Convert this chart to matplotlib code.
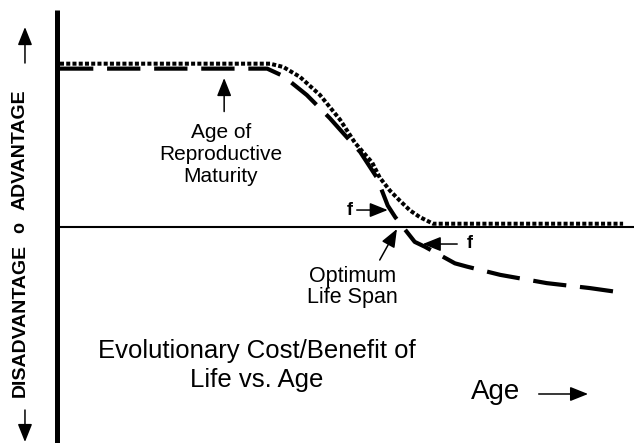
import matplotlib
matplotlib.use("Agg")
import matplotlib.pyplot as plt

plt.rcParams["font.family"] = ["Liberation Sans", "DejaVu Sans"]

# Kurven (Alter 0..100, Nutzen: 1 = Plateau, 0 = neutral)
dotted_age = [0, 36.6, 38.9, 41.8, 45.3, 48.8, 51.4, 54.4, 55.7, 57.5, 59.2, 61.0, 62.7, 65.0, 98.1]
dotted_val = [0.99, 0.99, 0.97, 0.91, 0.80, 0.65, 0.51, 0.39, 0.30, 0.22, 0.16, 0.10, 0.06, 0.02, 0.02]

dashed_age = [0, 36.1, 38.9, 43.0, 47.0, 49.7, 52.3, 55.2, 57.1, 58.4, 60.1, 61.8, 63.6, 68.8, 70.9, 76.7, 84.8, 92.3, 98.4]
dashed_val = [0.96, 0.96, 0.915, 0.80, 0.66, 0.555, 0.455, 0.30, 0.13, 0.06, -0.015, -0.09, -0.12, -0.22, -0.24, -0.29, -0.34, -0.37, -0.40]

# Beschriftungen
maturity_label = "Age of\nReproductive\nMaturity"
optimum_label = "Optimum\nLife Span"
title_label = "Evolutionary Cost/Benefit of\nLife vs. Age"
x_label = "Age"
adv_label = "ADVANTAGE"
disadv_label = "DISADVANTAGE"

fig = plt.figure(figsize=(6.34, 4.43), dpi=100)
ax = fig.add_axes([0, 0, 1, 1])
ax.set_xlim(-10.45, 100)
ax.set_ylim(-1.309, 1.376)
ax.axis("off")

# Achsen
ax.plot([-0.45, -0.45], [-1.31, 1.315], color="black", lw=3.6, solid_capstyle="butt")
ax.plot([0, 100], [0, 0], color="black", lw=1.5)

# Kurven
ax.plot(dotted_age, dotted_val, color="black", lw=2.9, linestyle=(0, (1, 0.55)))
ax.plot(dashed_age, dashed_val, color="black", lw=3.0, linestyle=(0, (8, 3.3)))

arrow = dict(arrowstyle="-|>,head_length=0.55,head_width=0.22", color="black",
             lw=1.1, mutation_scale=20, shrinkA=0, shrinkB=0)

# Reife-Pfeil (va=baseline richtet die letzte Zeile aus)
ax.annotate("", xy=(28.6, 0.903), xytext=(28.6, 0.70), arrowprops=arrow)
ax.text(28.0, 0.273, maturity_label, ha="center", va="baseline", fontsize=15, linespacing=1.2)

# f-Pfeile
ax.annotate("", xy=(57.1, 0.103), xytext=(51.7, 0.103), arrowprops=arrow)
ax.text(50.5, 0.103, "f", ha="center", va="center", fontsize=13, fontweight="bold")
ax.annotate("", xy=(63.2, -0.103), xytext=(69.2, -0.103), arrowprops=arrow)
ax.text(71.3, -0.10, "f", ha="center", va="center", fontsize=13, fontweight="bold")

# Optimum
ax.annotate("", xy=(58.7, -0.012), xytext=(55.7, -0.20), arrowprops=arrow)
ax.text(51.0, -0.461, optimum_label, ha="center", va="baseline", fontsize=15.5, linespacing=1.0)

# Titel
ax.text(34.3, -0.970, title_label, ha="center", va="baseline", fontsize=18.5, linespacing=1.26)

# Age-Achse
ax.text(75.8, -1.042, x_label, ha="center", va="baseline", fontsize=20)
ax.annotate("", xy=(92.0, -1.012), xytext=(83.4, -1.012), arrowprops=arrow)

# y-Beschriftung
ax.text(-7.0, 0.467, adv_label, rotation=90, ha="center", va="center", fontsize=14, fontweight="bold")
ax.text(-7.0, 0.0, "o", rotation=90, ha="center", va="center", fontsize=13, fontweight="bold")
ax.text(-7.0, -0.564, disadv_label, rotation=90, ha="center", va="center", fontsize=14, fontweight="bold")
ax.annotate("", xy=(-6.1, 1.212), xytext=(-6.1, 0.994), arrowprops=arrow)
ax.annotate("", xy=(-6.1, -1.303), xytext=(-6.1, -1.109), arrowprops=arrow)

fig.savefig("out.png", dpi=100)
